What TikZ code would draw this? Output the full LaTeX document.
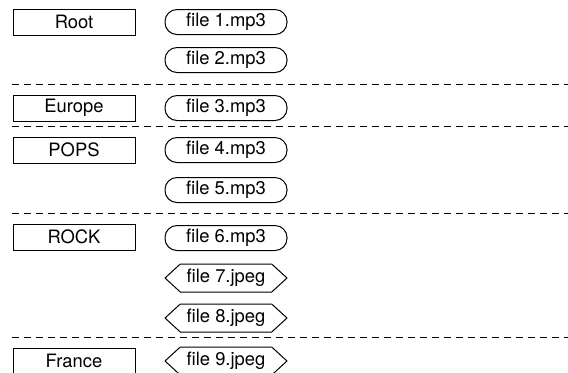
\documentclass[tikz,border=0pt]{standalone}
\usepackage{fontspec}
\setmainfont{TeX Gyre Heros}
\usetikzlibrary{shapes.symbols}
\usetikzlibrary{positioning}

\begin{document}
\begin{tikzpicture}[x=0.5pt, y=-0.5pt, line width=0.5pt,
        every node/.style={font=\fontsize{9.2}{10}\selectfont},
        folder/.style={draw, rectangle, minimum width=61pt, minimum height=13pt, inner sep=0pt},
        mpfile/.style={draw, rectangle, rounded corners=6pt, minimum width=61pt, minimum height=12.5pt, inner sep=0pt},
        jpgfile/.style={draw, signal, signal to=west and east, signal pointer angle=85, minimum width=61pt, minimum height=14pt, inner sep=0pt},
        sep/.style={dashed, dash pattern=on 3.5pt off 2.5pt}]
        \clip (0,0) rectangle (568,372);

        % folders
        \node[folder] (root) at (74,22) {Root};
        \node[folder] (europe) at (74,108) {Europe};
        \node[folder] (pops) at (74,150) {POPS};
        \node[folder] (rock) at (74,237) {ROCK};
        \node[folder] (france) at (74,361) {France};

        % files
        \node[mpfile] (f1) at (226,22) {file 1.mp3};
        \node[mpfile] (f2) at (226,60) {file 2.mp3};
        \node[mpfile] (f3) at (226,108) {file 3.mp3};
        \node[mpfile] (f4) at (226,150) {file 4.mp3};
        \node[mpfile] (f5) at (226,190) {file 5.mp3};
        \node[mpfile] (f6) at (226,238) {file 6.mp3};
        \node[jpgfile] (f7) at (226,278) {file 7.jpeg};
        \node[jpgfile] (f8) at (226,318) {file 8.jpeg};
        \node[jpgfile] (f9) at (226,361) {file 9.jpeg};

        % separators
        \foreach \y in {84,126,213,337}
            \draw[sep] (12,\y) -- (568,\y);
\end{tikzpicture}
\end{document}
